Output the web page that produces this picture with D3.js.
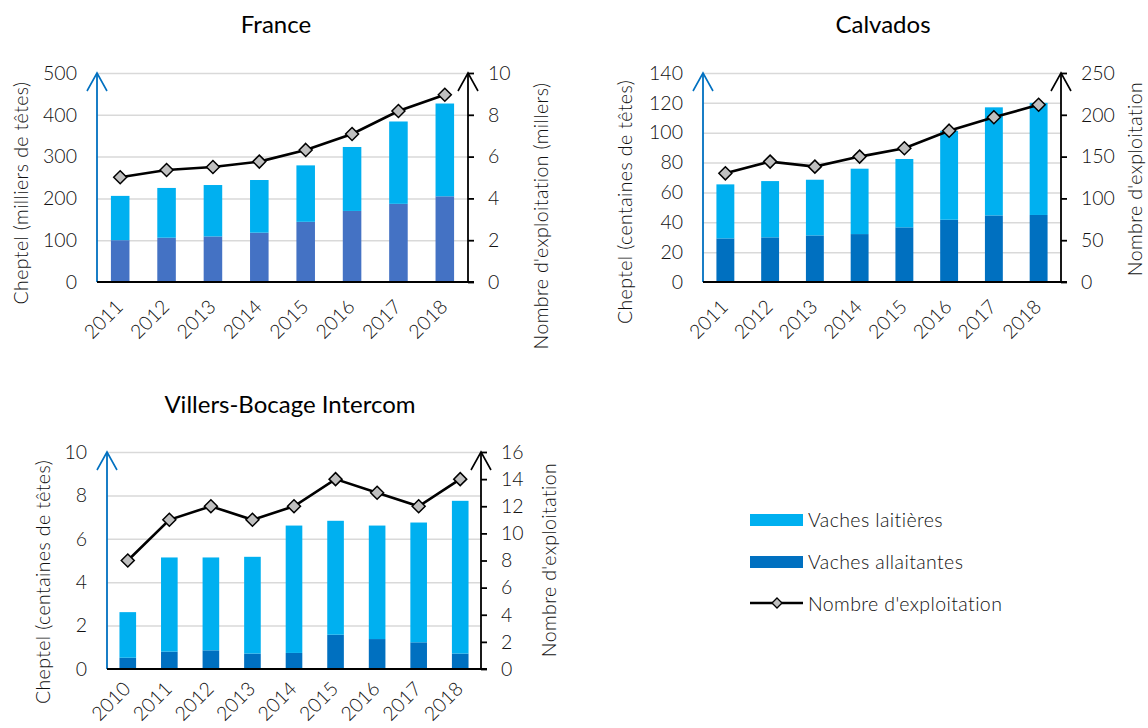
<!DOCTYPE html>
<html>
<head>
<meta charset="utf-8">
<script src="https://cdn.jsdelivr.net/npm/d3@7"></script>
<style>
  html, body { margin: 0; padding: 0; background: #fff; }
  svg { display: block; font-family: "Lato", "DejaVu Sans", sans-serif; font-weight: 300; }
</style>
</head>
<body>
<svg id="chart" width="1148" height="728"></svg>
<script>
// ---- France ----
const franceYears = ["2011", "2012", "2013", "2014", "2015", "2016", "2017", "2018"];
const franceAllaitantes = [100, 106, 109, 118, 144, 170, 187, 205];
const franceLaitieres = [106, 119, 123, 126, 135, 153, 197, 222];
const franceExploitations = [5.01, 5.36, 5.50, 5.76, 6.32, 7.08, 8.18, 8.96];
const franceLeftTicks = [0, 100, 200, 300, 400, 500];
const franceRightTicks = [0, 2, 4, 6, 8, 10];

// ---- Calvados ----
const calvadosYears = ["2011", "2012", "2013", "2014", "2015", "2016", "2017", "2018"];
const calvadosAllaitantes = [29.2, 29.9, 31.2, 32.1, 36.6, 41.7, 44.6, 44.9];
const calvadosLaitieres = [36.2, 37.7, 37.3, 43.8, 45.8, 59.6, 72.4, 75.1];
const calvadosExploitations = [130, 144, 138, 150, 160, 181, 197, 212];
const calvadosLeftTicks = [0, 20, 40, 60, 80, 100, 120, 140];
const calvadosRightTicks = [0, 50, 100, 150, 200, 250];

// ---- Villers-Bocage Intercom ----
const villersYears = ["2010", "2011", "2012", "2013", "2014", "2015", "2016", "2017", "2018"];
const villersAllaitantes = [0.52, 0.80, 0.86, 0.71, 0.74, 1.58, 1.38, 1.23, 0.71];
const villersLaitieres = [2.10, 4.34, 4.28, 4.46, 5.87, 5.25, 5.23, 5.52, 7.04];
const villersExploitations = [8, 11, 12, 11, 12, 14, 13, 12, 14];
const villersLeftTicks = [0, 2, 4, 6, 8, 10];
const villersRightTicks = [0, 2, 4, 6, 8, 10, 12, 14, 16];

const legendLabels = ["Vaches laitières", "Vaches allaitantes", "Nombre d'exploitation"];

const COL_LAIT = "#00B0F0";
const COL_GRID = "#D9D9D9";
const COL_LEFT_AXIS = "#0070C0";
const COL_MARKER = "#BFBFBF";
const TEXT_COL = "#111";
const FONT = "Lato, 'DejaVu Sans', sans-serif";
const TICK_FONT = 19.5;
const LABEL_FONT = 19.5;

const svg = d3.select("#chart");

function arrowHead(g, x, y, color) {
  g.append("path")
    .attr("d", `M${x - 10},${y + 18}L${x},${y}L${x + 10},${y + 18}`)
    .attr("fill", "none")
    .attr("stroke", color)
    .attr("stroke-width", 1.6);
}

function styleTickText(s) {
  s.selectAll("text")
    .attr("font-size", TICK_FONT)
    .attr("font-family", FONT)
    .attr("font-weight", 300)
    .attr("fill", TEXT_COL);
}

const diamond = "M0,-6.5L6.5,0L0,6.5L-6.5,0Z";

function drawPanel(cfg) {
  const g = svg.append("g");
  const x = d3.scaleBand().domain(cfg.years).range([cfg.left, cfg.right])
    .paddingInner(0.6).paddingOuter(0.3);
  const yL = d3.scaleLinear().domain([0, cfg.leftTicks[cfg.leftTicks.length - 1]]).range([cfg.bottom, cfg.top]);
  const yR = d3.scaleLinear().domain([0, cfg.rightTicks[cfg.rightTicks.length - 1]]).range([cfg.bottom, cfg.top]);

  // gridlines
  g.append("g")
    .attr("transform", `translate(${cfg.left},0)`)
    .call(d3.axisLeft(yL).tickValues(cfg.leftTicks.slice(1)).tickSize(-(cfg.right - cfg.left)).tickFormat(""))
    .call(s => s.select(".domain").remove())
    .call(s => s.selectAll(".tick line").attr("stroke", COL_GRID).attr("stroke-width", 1.5));

  // stacked bars: allaitantes at the bottom, laitières on top
  const rows = cfg.years.map((yr, i) => ({ yr, a: cfg.allaitantes[i], l: cfg.laitieres[i] }));
  g.append("g").selectAll("rect").data(rows).join("rect")
    .attr("x", d => x(d.yr)).attr("width", x.bandwidth())
    .attr("y", d => yL(d.a)).attr("height", d => yL(0) - yL(d.a))
    .attr("fill", cfg.darkColor);
  g.append("g").selectAll("rect").data(rows).join("rect")
    .attr("x", d => x(d.yr)).attr("width", x.bandwidth())
    .attr("y", d => yL(d.a + d.l)).attr("height", d => yL(d.a) - yL(d.a + d.l))
    .attr("fill", COL_LAIT);

  // left axis (labels only) + blue arrow line
  g.append("g")
    .attr("transform", `translate(${cfg.left},0)`)
    .call(d3.axisLeft(yL).tickValues(cfg.leftTicks).tickSize(0).tickPadding(cfg.leftPad))
    .call(s => s.select(".domain").remove())
    .call(styleTickText);
  g.append("line")
    .attr("x1", cfg.left).attr("x2", cfg.left)
    .attr("y1", cfg.bottom).attr("y2", cfg.top)
    .attr("stroke", COL_LEFT_AXIS).attr("stroke-width", 1.8);
  arrowHead(g, cfg.left, cfg.top, COL_LEFT_AXIS);

  // right axis
  g.append("g")
    .attr("transform", `translate(${cfg.right},0)`)
    .call(d3.axisRight(yR).tickValues(cfg.rightTicks).tickSize(6).tickPadding(14))
    .call(s => s.select(".domain").remove())
    .call(s => s.selectAll(".tick line").attr("stroke", "#000").attr("stroke-width", 1.8))
    .call(styleTickText);
  g.append("line")
    .attr("x1", cfg.right).attr("x2", cfg.right)
    .attr("y1", cfg.bottom).attr("y2", cfg.top)
    .attr("stroke", "#000").attr("stroke-width", 1.8);
  arrowHead(g, cfg.right, cfg.top, "#000");

  // x baseline
  g.append("line")
    .attr("x1", cfg.left).attr("x2", cfg.right + 6)
    .attr("y1", cfg.bottom).attr("y2", cfg.bottom)
    .attr("stroke", "#000").attr("stroke-width", 2);

  // x labels, rotated
  g.append("g").selectAll("text").data(cfg.years).join("text")
    .attr("transform", d => `translate(${x(d) + x.bandwidth() / 2 + 4},${cfg.bottom + cfg.xLabelDrop}) rotate(-45)`)
    .attr("text-anchor", "end")
    .attr("font-size", TICK_FONT).attr("fill", TEXT_COL)
    .text(d => d);

  // line series (number of farms)
  const pts = cfg.years.map((yr, i) => [x(yr) + x.bandwidth() / 2, yR(cfg.exploitations[i])]);
  g.append("path")
    .attr("d", d3.line()(pts))
    .attr("fill", "none").attr("stroke", "#000").attr("stroke-width", 2.6);
  g.append("g").selectAll("path").data(pts).join("path")
    .attr("transform", d => `translate(${d[0]},${d[1]})`)
    .attr("d", diamond)
    .attr("fill", COL_MARKER).attr("stroke", "#000").attr("stroke-width", 1.5);

  // titles
  g.append("text")
    .attr("x", cfg.titleX).attr("y", cfg.titleY)
    .attr("text-anchor", "middle").attr("font-size", 24).attr("fill", "#000")
    .attr("font-weight", 400)
    .text(cfg.title);
  g.append("text")
    .attr("transform", `translate(${cfg.leftTitleX},${cfg.leftTitleY}) rotate(-90)`)
    .attr("text-anchor", "middle").attr("font-size", LABEL_FONT).attr("fill", TEXT_COL)
    .attr("letter-spacing", 0.4)
    .text(cfg.leftTitle);
  g.append("text")
    .attr("transform", `translate(${cfg.rightTitleX},${cfg.rightTitleY}) rotate(-90)`)
    .attr("text-anchor", "middle").attr("font-size", LABEL_FONT).attr("fill", TEXT_COL)
    .attr("letter-spacing", 0.4)
    .text(cfg.rightTitle);
}

drawPanel({
  years: franceYears, allaitantes: franceAllaitantes, laitieres: franceLaitieres,
  exploitations: franceExploitations, leftTicks: franceLeftTicks, rightTicks: franceRightTicks,
  left: 97, right: 468, top: 73, bottom: 282, leftPad: 20, darkColor: "#4472C4", xLabelDrop: 26,
  title: "France", titleX: 276, titleY: 33,
  leftTitle: "Cheptel (milliers de têtes)", leftTitleX: 28, leftTitleY: 193,
  rightTitle: "Nombre d'exploitation (millers)", rightTitleX: 548, rightTitleY: 216
});

drawPanel({
  years: calvadosYears, allaitantes: calvadosAllaitantes, laitieres: calvadosLaitieres,
  exploitations: calvadosExploitations, leftTicks: calvadosLeftTicks, rightTicks: calvadosRightTicks,
  left: 703, right: 1061, top: 73, bottom: 282, leftPad: 20, darkColor: "#0070C0", xLabelDrop: 26,
  title: "Calvados", titleX: 883, titleY: 33,
  leftTitle: "Cheptel (centaines de têtes)", leftTitleX: 632, leftTitleY: 202,
  rightTitle: "Nombre d'exploitation", rightTitleX: 1142, rightTitleY: 179
});

drawPanel({
  years: villersYears, allaitantes: villersAllaitantes, laitieres: villersLaitieres,
  exploitations: villersExploitations, leftTicks: villersLeftTicks, rightTicks: villersRightTicks,
  left: 107, right: 481, top: 452, bottom: 669, leftPad: 20, darkColor: "#0070C0", xLabelDrop: 21,
  title: "Villers-Bocage Intercom", titleX: 290, titleY: 413,
  leftTitle: "Cheptel (centaines de têtes)", leftTitleX: 50, leftTitleY: 582,
  rightTitle: "Nombre d'exploitation", rightTitleX: 556, rightTitleY: 560
});

// legend
const legend = svg.append("g");
const legendColors = [COL_LAIT, "#0070C0"];
legend.selectAll("rect").data(legendColors).join("rect")
  .attr("x", 750).attr("width", 53)
  .attr("y", (d, i) => 514 + i * 42).attr("height", 12)
  .attr("fill", d => d);
legend.append("line")
  .attr("x1", 750).attr("x2", 803).attr("y1", 603).attr("y2", 603)
  .attr("stroke", "#000").attr("stroke-width", 2.6);
legend.append("path")
  .attr("transform", "translate(777,603)")
  .attr("d", "M0,-5L5,0L0,5L-5,0Z")
  .attr("fill", COL_MARKER).attr("stroke", "#000").attr("stroke-width", 1.3);
legend.selectAll("text").data(legendLabels).join("text")
  .attr("x", 808).attr("y", (d, i) => 527 + i * 42)
  .attr("font-size", LABEL_FONT).attr("fill", TEXT_COL)
  .attr("letter-spacing", 0.4)
  .text(d => d);
</script>
</body>
</html>
